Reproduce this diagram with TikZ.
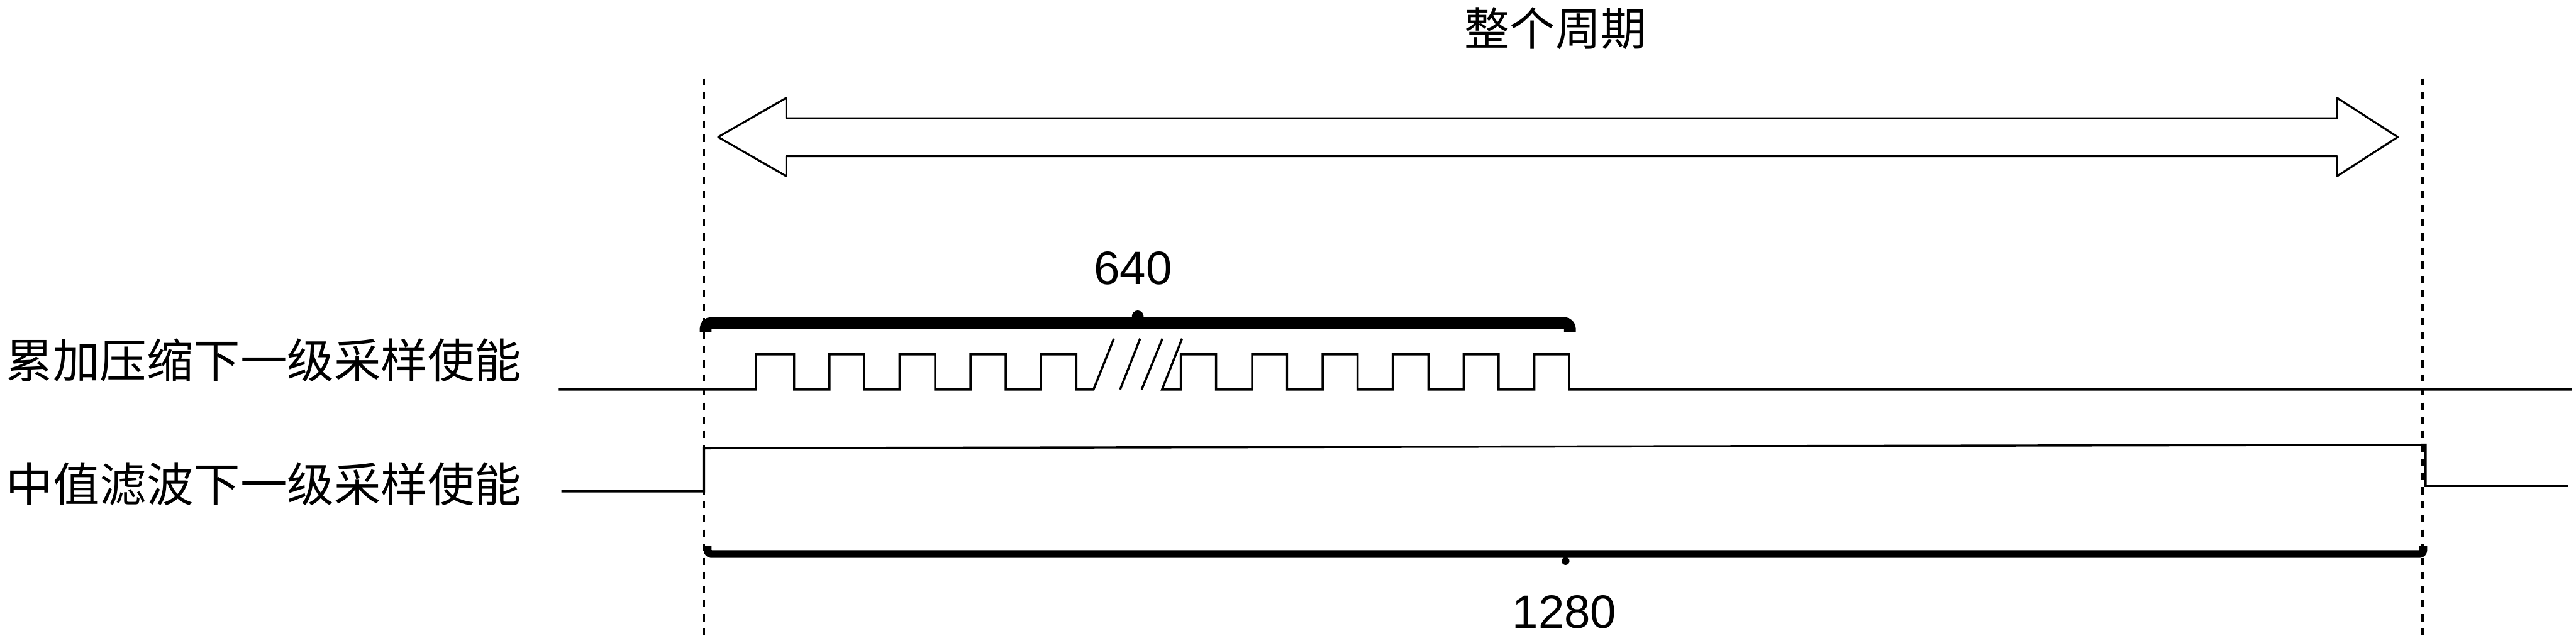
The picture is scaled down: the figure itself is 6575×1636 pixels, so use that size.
\documentclass[tikz,border=0pt]{standalone}
\usepackage{fontspec}
\setmainfont{Liberation Sans}
\newfontfamily\cjk{Noto Sans CJK SC}
\begin{document}
\begin{tikzpicture}[x=0.01cm,y=-0.01cm,
  sig/.style={line width=0.55mm, line join=miter},
  vline/.style={line width=0.55mm, dash pattern=on 1.8mm off 1.8mm},
  outline/.style={line width=0.5mm, line join=round},
  cjklabel/.style={font=\cjk\fontsize{33}{40}\selectfont, inner sep=0pt},
  sidelabel/.style={font=\cjk\fontsize{34}{40}\selectfont, inner sep=0pt, anchor=west},
  numlabel/.style={font=\fontsize{34}{40}\selectfont, inner sep=0pt}]
\useasboundingbox (0,0) rectangle (6575,1636);

% dashed period boundaries
\coordinate (dLt) at (1797,200); \coordinate (dLb) at (1797,1636);
\coordinate (dRt) at (6183,200); \coordinate (dRb) at (6183,1636);
\draw[vline] (dLt) -- (dLb);
\draw[vline] (dRt) -- (dRb);

% title and hollow double arrow
\node[cjklabel] (title) at (3970,73) {整个周期};
\draw[outline] (1833,350) -- (2007,250) -- (2007,302) -- (5965,302) -- (5965,250)
  -- (6120,350) -- (5965,450) -- (5965,399) -- (2007,399) -- (2007,450) -- cycle;

% top brace 640
\node[numlabel] (n640) at (2892,685) {640};
\draw[line width=3mm, rounded corners=1.5mm] (1801,848) -- (1801,825) -- (4007,825) -- (4007,848);
\fill (2904,808) circle[radius=15];

% signal labels
\node[sidelabel] (lab1) at (15,920) {累加压缩下一级采样使能};
\node[sidelabel] (lab2) at (15,1237) {中值滤波下一级采样使能};

% signal 1 : pulse train
\draw[sig] (1426,995) -- (1929,995) -- (1929,905) -- (2027,905) -- (2027,995)
  -- (2117,995) -- (2117,905) -- (2206,905) -- (2206,995)
  -- (2296,995) -- (2296,905) -- (2387,905) -- (2387,995)
  -- (2477,995) -- (2477,905) -- (2567,905) -- (2567,995)
  -- (2657,995) -- (2657,905) -- (2747,905) -- (2747,995)
  -- (2791,995) -- (2843,865);
\draw[sig] (2859,995) -- (2910,865);
\draw[sig] (2914,995) -- (2967,865);
\draw[sig] (3017,865) -- (2966,995) -- (3014,995) -- (3014,905) -- (3104,905) -- (3104,995)
  -- (3196,995) -- (3196,905) -- (3285,905) -- (3285,995)
  -- (3376,995) -- (3376,905) -- (3465,905) -- (3465,995)
  -- (3555,995) -- (3555,905) -- (3646,905) -- (3646,995)
  -- (3736,995) -- (3736,905) -- (3825,905) -- (3825,995)
  -- (3916,995) -- (3916,905) -- (4005,905) -- (4005,995)
  -- (6565,995);

% signal 2 : one long enable
\draw[sig] (1433,1255) -- (1797,1255) -- (1797,1145) -- (6191,1136) -- (6191,1241) -- (6555,1241);

% bottom brace 1280
\draw[line width=2mm, rounded corners=1mm] (1806,1395) -- (1806,1415) -- (6185,1415) -- (6185,1395);
\fill (3996,1433) circle[radius=10];
\node[numlabel] (n1280) at (3993,1564) {1280};
\end{tikzpicture}
\end{document}
